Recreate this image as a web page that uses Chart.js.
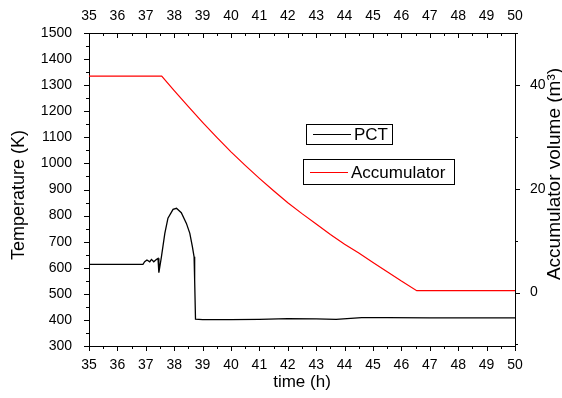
<!DOCTYPE html>
<html>
<head>
<meta charset="utf-8">
<script src="https://cdn.jsdelivr.net/npm/chart.js@4.4.1/dist/chart.umd.min.js"></script>
<style>
  html, body { margin: 0; padding: 0; background: #fff; }
  #wrap { width: 562px; height: 398px; }
</style>
</head>
<body>
<div id="wrap"><canvas id="c"></canvas></div>
<script>
// PCT (peak cladding temperature), K
var pctTime = [35, 36.9, 36.96, 37.04, 37.14, 37.2, 37.28, 37.37, 37.43, 37.46, 37.55, 37.67, 37.78, 37.96, 38.08, 38.25, 38.43, 38.55, 38.64, 38.7, 38.72, 38.75, 39, 40, 41, 42, 43, 43.7, 44.6, 45.5, 47, 48.5, 50];
var pctTemp = [613, 613, 623, 630, 623, 632, 623, 632, 636, 581, 642, 732, 790, 824, 828, 811, 770, 732, 681, 642, 553, 403, 401, 401, 402, 405, 404, 402, 409, 409, 408, 408, 408];

// accumulator volume, m3
var accTime = [35, 37.56, 38, 38.5, 39, 39.5, 40, 40.5, 41, 41.5, 42, 42.5, 43, 43.5, 44, 44.5, 45, 45.5, 46, 46.54, 50];
var accVol = [41.7, 41.7, 38.9, 35.8, 32.8, 29.9, 27.1, 24.5, 22.0, 19.6, 17.3, 15.2, 13.2, 11.2, 9.3, 7.6, 5.8, 4.0, 2.2, 0.35, 0.35];

var timeTicks = [35, 36, 37, 38, 39, 40, 41, 42, 43, 44, 45, 46, 47, 48, 49, 50];
var tempTicks = [300, 400, 500, 600, 700, 800, 900, 1000, 1100, 1200, 1300, 1400, 1500];
var volTicks = [0, 20, 40];

var FONT = '"Liberation Sans", Arial, sans-serif';

function pts(xs, ys) {
  return xs.map(function (x, i) { return { x: x, y: ys[i] }; });
}

// draw tick marks ourselves: Origin style, top axis ticks point inward
var tickMarks = {
  id: 'tickMarks',
  afterDraw: function (chart) {
    var ctx = chart.ctx, s = chart.scales, a = chart.chartArea;
    ctx.save();
    ctx.strokeStyle = '#000';
    ctx.lineWidth = 1;
    ctx.beginPath();
    for (var t = 35; t <= 50.001; t += 0.5) {
      var x = Math.round(s.x.getPixelForValue(t)) + 0.5;
      var len = (t % 1 === 0) ? 5 : 3;
      ctx.moveTo(x, a.bottom); ctx.lineTo(x, a.bottom + len);
      ctx.moveTo(x, a.top); ctx.lineTo(x, a.top + len);
    }
    for (var v = 300; v <= 1500; v += 50) {
      var y = Math.round(s.yT.getPixelForValue(v)) + 0.5;
      var l2 = (v % 100 === 0) ? 5 : 3;
      ctx.moveTo(a.left, y); ctx.lineTo(a.left - l2, y);
    }
    for (var w = -10; w <= 50; w += 10) {
      var y2 = Math.round(s.yV.getPixelForValue(w)) + 0.5;
      var l3 = (w % 20 === 0) ? 5 : 3;
      ctx.moveTo(a.right, y2); ctx.lineTo(a.right + l3, y2);
    }
    ctx.stroke();
    ctx.restore();
  }
};

// axis titles + boxed legend entries
var decor = {
  id: 'decor',
  afterDraw: function (chart) {
    var ctx = chart.ctx, a = chart.chartArea;
    ctx.save();
    ctx.fillStyle = '#000';
    ctx.textAlign = 'center';
    ctx.textBaseline = 'middle';
    ctx.font = '17px ' + FONT;
    ctx.fillText('time (h)', (a.left + a.right) / 2, 382);

    ctx.save();
    ctx.font = '18px ' + FONT;
    ctx.translate(19, 195);
    ctx.rotate(-Math.PI / 2);
    ctx.fillText('Temperature (K)', 0, 0);
    ctx.restore();

    ctx.save();
    ctx.font = '19px ' + FONT;
    ctx.translate(555, 174);
    ctx.rotate(-Math.PI / 2);
    ctx.fillText('Accumulator volume (m\u00B3)', 0, 0);
    ctx.restore();

    var boxes = [
      { ds: 0, x: 306, y: 124, w: 86, h: 20 },
      { ds: 1, x: 303, y: 159, w: 151, h: 25 }
    ];
    ctx.textAlign = 'left';
    ctx.font = '17px ' + FONT;
    boxes.forEach(function (b) {
      var d = chart.data.datasets[b.ds];
      ctx.fillStyle = '#fff';
      ctx.fillRect(b.x, b.y, b.w, b.h);
      ctx.strokeStyle = '#000';
      ctx.lineWidth = 1;
      ctx.strokeRect(b.x + 0.5, b.y + 0.5, b.w, b.h);
      var cy = Math.round(b.y + b.h / 2) + 0.5;
      ctx.strokeStyle = d.borderColor;
      ctx.beginPath();
      ctx.moveTo(b.x + 7, cy); ctx.lineTo(b.x + 45, cy);
      ctx.stroke();
      ctx.fillStyle = '#000';
      ctx.fillText(d.label, b.x + 48, cy + 1);
    });
    ctx.restore();
  }
};

function fixW(w) { return function (sc) { sc.width = w; }; }
function fixH(h) { return function (sc) { sc.height = h; }; }
function plain(v) { return String(v); }

new Chart(document.getElementById('c'), {
  type: 'line',
  data: {
    datasets: [
      {
        label: 'PCT',
        data: pts(pctTime, pctTemp),
        xAxisID: 'x',
        yAxisID: 'yT',
        borderColor: '#000',
        borderWidth: 1.3,
        pointRadius: 0,
        tension: 0
      },
      {
        label: 'Accumulator',
        data: pts(accTime, accVol),
        xAxisID: 'x',
        yAxisID: 'yV',
        borderColor: '#ff0000',
        borderWidth: 1.2,
        pointRadius: 0,
        tension: 0
      }
    ]
  },
  options: {
    responsive: true,
    maintainAspectRatio: false,
    animation: false,
    layout: { padding: 0 },
    plugins: { legend: { display: false }, tooltip: { enabled: false } },
    scales: {
      x: {
        type: 'linear', position: 'bottom', min: 35, max: 50,
        afterFit: fixH(52),
        afterBuildTicks: function (sc) { sc.ticks = timeTicks.map(function (v) { return { value: v }; }); },
        grid: { display: false },
        border: { display: true, color: '#000', width: 1 },
        ticks: { color: '#000', padding: 3, maxRotation: 0, autoSkip: false, callback: plain, font: { family: FONT, size: 14 } }
      },
      x2: {
        type: 'linear', position: 'top', min: 35, max: 50,
        afterFit: fixH(33),
        afterBuildTicks: function (sc) { sc.ticks = timeTicks.map(function (v) { return { value: v }; }); },
        grid: { display: false },
        border: { display: true, color: '#000', width: 1 },
        ticks: { color: '#000', padding: 0, maxRotation: 0, autoSkip: false, callback: plain, font: { family: FONT, size: 14 } }
      },
      yT: {
        type: 'linear', position: 'left', min: 300, max: 1500,
        afterFit: fixW(89),
        afterBuildTicks: function (sc) { sc.ticks = tempTicks.map(function (v) { return { value: v }; }); },
        grid: { display: false },
        border: { display: true, color: '#000', width: 1 },
        ticks: { color: '#000', padding: 9, autoSkip: false, callback: plain, font: { family: FONT, size: 14 } }
      },
      yV: {
        type: 'linear', position: 'right', min: -10.3, max: 50,
        afterFit: fixW(47),
        afterBuildTicks: function (sc) { sc.ticks = volTicks.map(function (v) { return { value: v }; }); },
        grid: { display: false },
        border: { display: true, color: '#000', width: 1 },
        ticks: { color: '#000', padding: 7, autoSkip: false, callback: plain, font: { family: FONT, size: 14 } }
      }
    }
  },
  plugins: [tickMarks, decor]
});
</script>
</body>
</html>
